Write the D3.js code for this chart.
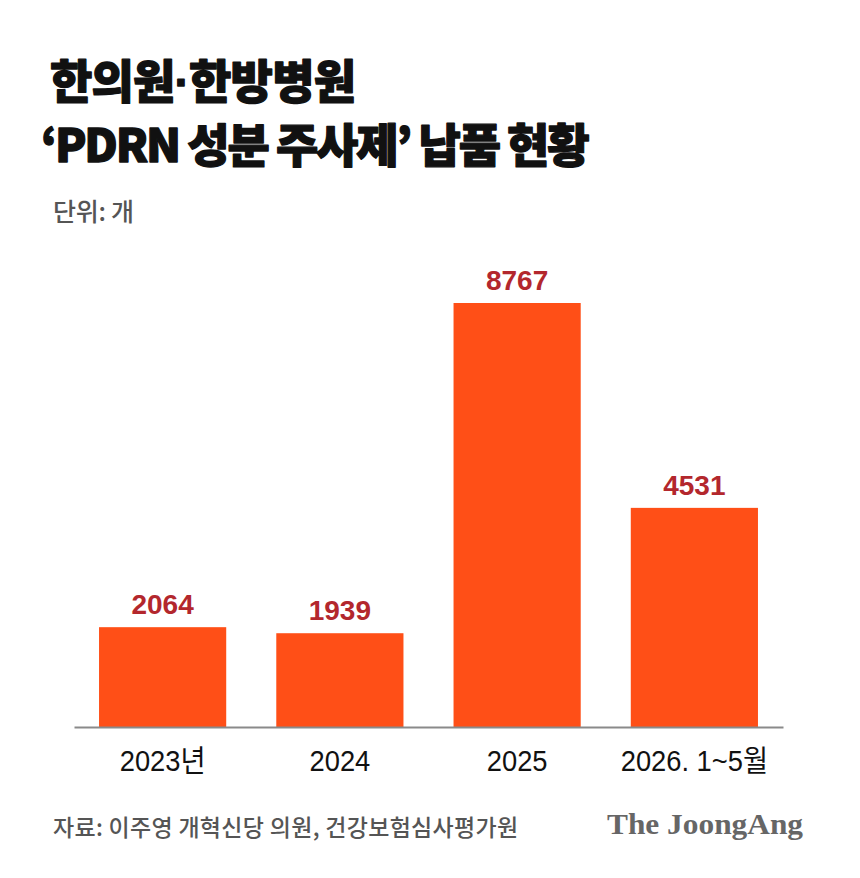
<!DOCTYPE html>
<html><head><meta charset="utf-8">
<script src="https://cdn.jsdelivr.net/npm/d3@7"></script>
<style>
html,body{margin:0;padding:0;background:#fff;}
svg{display:block;}
</style></head>
<body>
<div id="chart"></div>
<script>
const categories = ["2023년", "2024", "2025", "2026. 1~5월"];
const values = [2064, 1939, 8767, 4531];
const titleLine1 = ["한의원", "·", "한방병원"];
const titleLine2 = "‘PDRN 성분 주사제’ 납품 현황";
const unitText = "단위: 개";
const sourceText = "자료: 이주영 개혁신당 의원, 건강보험심사평가원";
const brandText = "The JoongAng";

const W = 860, H = 878;
const svg = d3.select("#chart").append("svg").attr("width", W).attr("height", H);
svg.append("rect").attr("width", W).attr("height", H).attr("fill", "#fff");

const kr = "'Noto Sans CJK KR', 'Noto Sans', sans-serif";

function titleText(x, yy, ls) {
  return svg.append("text").attr("x", x).attr("y", yy)
    .attr("font-family", kr).attr("font-weight", 900).attr("font-size", 46)
    .attr("letter-spacing", ls)
    .attr("fill", "#111").attr("stroke", "#111").attr("stroke-width", 1.3)
    .attr("stroke-linejoin", "round");
}
const t1 = titleText(50, 98, -0.8);
t1.selectAll("tspan").data(titleLine1).join("tspan")
  .attr("font-family", (d, i) => i === 1 ? "'Liberation Sans', sans-serif" : null)
  .text(d => d);
titleText(41, 162, -2.2).text(titleLine2);

svg.append("text").attr("x", 53).attr("y", 221)
  .attr("font-family", kr).attr("font-weight", 500).attr("font-size", 25)
  .attr("letter-spacing", -0.3)
  .attr("fill", "#555").text(unitText);

const x = d3.scaleBand().domain(categories).range([74, 783])
  .paddingInner(50 / 177).paddingOuter(25 / 177);
const y = d3.scaleLinear().domain([0, d3.max(values)]).range([727, 303]);

svg.selectAll("rect.bar").data(values).join("rect")
  .attr("class", "bar")
  .attr("x", (d, i) => x(categories[i]))
  .attr("width", x.bandwidth())
  .attr("y", d => y(d))
  .attr("height", d => y(0) - y(d))
  .attr("fill", "#ff4f17");

const axis = d3.axisBottom(x).tickSize(0).tickPadding(0);
const gx = svg.append("g").attr("transform", `translate(0,${y(0)})`).call(axis);
gx.select(".domain").attr("stroke", "#8a8a8a").attr("stroke-width", 2);
gx.selectAll(".tick text")
  .attr("y", 44).attr("dy", 0)
  .attr("transform", "scale(0.91,1)")
  .attr("font-family", "'Liberation Sans', 'Noto Sans CJK KR', sans-serif")
  .attr("font-size", 30).attr("fill", "#111");

svg.selectAll("text.val").data(values).join("text")
  .attr("class", "val")
  .attr("x", (d, i) => x(categories[i]) + x.bandwidth() / 2)
  .attr("y", d => y(d) - 13)
  .attr("text-anchor", "middle")
  .attr("font-family", "'Liberation Sans', Arial, sans-serif")
  .attr("font-weight", 700).attr("font-size", 28)
  .attr("fill", "#b3272d")
  .attr("stroke", "#fff").attr("stroke-width", 4).attr("paint-order", "stroke")
  .text(d => d);

svg.append("text").attr("x", 53).attr("y", 836)
  .attr("font-family", kr).attr("font-weight", 500).attr("font-size", 23)
  .attr("letter-spacing", 0.3)
  .attr("fill", "#555").text(sourceText);

svg.append("text").attr("x", 607).attr("y", 834)
  .attr("font-family", "'Liberation Serif', 'DejaVu Serif', serif")
  .attr("font-weight", 700).attr("font-size", 30)
  .attr("textLength", 196).attr("lengthAdjust", "spacingAndGlyphs")
  .attr("fill", "#666").text(brandText);
</script>
</body></html>
